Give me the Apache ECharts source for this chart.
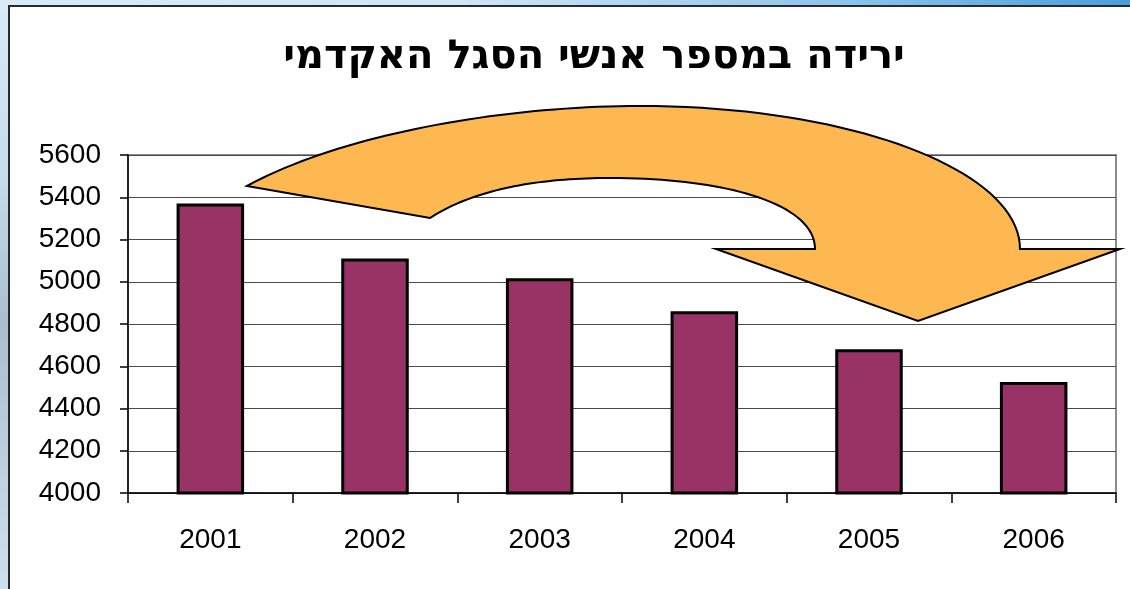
<!DOCTYPE html>
<html>
<head>
<meta charset="utf-8">
<script src="https://cdn.jsdelivr.net/npm/echarts@6/dist/echarts.min.js"></script>
<style>
  html, body { margin:0; padding:0; width:1130px; height:589px; overflow:hidden; }
  body { background: linear-gradient(to right, #d6ebf8 0%, #cfe6f6 40%, #8cc4ec 75%, #4a9ddb 100%); position:relative; }
  #leftstrip { position:absolute; left:0; top:0; width:9px; height:589px;
    background: linear-gradient(to bottom, #d8ebf7 0%, #c4dcec 30%, #a9bfcf 55%, #b9cedc 75%, #cfe0ec 100%); }
  #panel { position:absolute; left:8px; top:5px; width:1130px; height:600px; background:#fff;
    border-left:2px solid #2a2a2a; border-top:2px solid #2a2a2a; }
  #chart { position:absolute; left:0; top:0; width:1130px; height:589px; }
</style>
</head>
<body>
<div id="leftstrip"></div>
<div id="panel"></div>
<div id="chart"></div>
<script>
const titleText = 'ירידה במספר אנשי הסגל האקדמי';
const years = ['2001', '2002', '2003', '2004', '2005', '2006'];
const staff = [5370, 5110, 5017, 4860, 4680, 4525];
const yMin = 4000, yMax = 5600, yStep = 200;

// decorative arrow outline (pixel space): start point, then segments
const arrowStart = [247, 186];
const arrowSegs = [
  ['C', 340, 135, 500, 106, 640, 106],
  ['C', 850, 106, 1020, 170, 1020, 249],
  ['L', 1120, 249],
  ['L', 918, 321],
  ['L', 716, 249],
  ['L', 815, 249],
  ['C', 815, 205, 730, 178, 610, 178],
  ['C', 530, 178, 470, 192, 430, 218],
  ['L', 247, 186]
];
function arrowPoints() {
  const pts = [arrowStart.slice()];
  let cur = arrowStart.slice();
  arrowSegs.forEach(s => {
    if (s[0] === 'L') { cur = [s[1], s[2]]; pts.push(cur); }
    else {
      const [x1, y1, x2, y2, x3, y3] = s.slice(1);
      const x0 = cur[0], y0 = cur[1];
      for (let i = 1; i <= 40; i++) {
        const t = i / 40, u = 1 - t;
        pts.push([
          u*u*u*x0 + 3*u*u*t*x1 + 3*u*t*t*x2 + t*t*t*x3,
          u*u*u*y0 + 3*u*u*t*y1 + 3*u*t*t*y2 + t*t*t*y3
        ]);
      }
      cur = [x3, y3];
    }
  });
  return pts;
}

const chart = echarts.init(document.getElementById('chart'), null, { renderer: 'canvas' });
const font = '"Liberation Sans", Arial, "DejaVu Sans", sans-serif';

chart.setOption({
  animation: false,
  title: {
    text: titleText,
    left: 589, top: 33, textAlign: 'center',
    textStyle: { fontFamily: '"DejaVu Sans", sans-serif', fontSize: 40, fontWeight: 'bold', color: '#000' }
  },
  grid: {
    left: 128, right: 14, top: 155, bottom: 96,
    show: true, borderColor: '#8c8c8c', borderWidth: 2
  },
  xAxis: {
    type: 'category',
    data: years,
    axisLine: { lineStyle: { color: '#000', width: 1.5 } },
    axisTick: { show: true, alignWithLabel: false, length: 10, lineStyle: { color: '#000', width: 1.5 } },
    axisLabel: { margin: 33, fontFamily: font, fontSize: 28, color: '#000' },
    splitLine: { show: false }
  },
  yAxis: {
    type: 'value',
    min: yMin, max: yMax, interval: yStep,
    axisLine: { show: true, lineStyle: { color: '#000', width: 1.5 } },
    axisTick: { show: true, length: 8, lineStyle: { color: '#000', width: 1.5 } },
    axisLabel: { margin: 27, fontFamily: font, fontSize: 28, color: '#000', formatter: v => String(v) },
    splitLine: { show: true, lineStyle: { color: '#4a4a4a', width: 1.2 } }
  },
  series: [{
    type: 'bar',
    data: staff,
    barWidth: '41%',
    itemStyle: { color: '#993366', borderColor: '#000', borderWidth: 3 }
  }],
  graphic: [{
    type: 'polygon',
    z: 100,
    shape: { points: arrowPoints() },
    style: { fill: '#FDB851', stroke: '#000', lineWidth: 2 }
  }]
});
</script>
</body>
</html>
